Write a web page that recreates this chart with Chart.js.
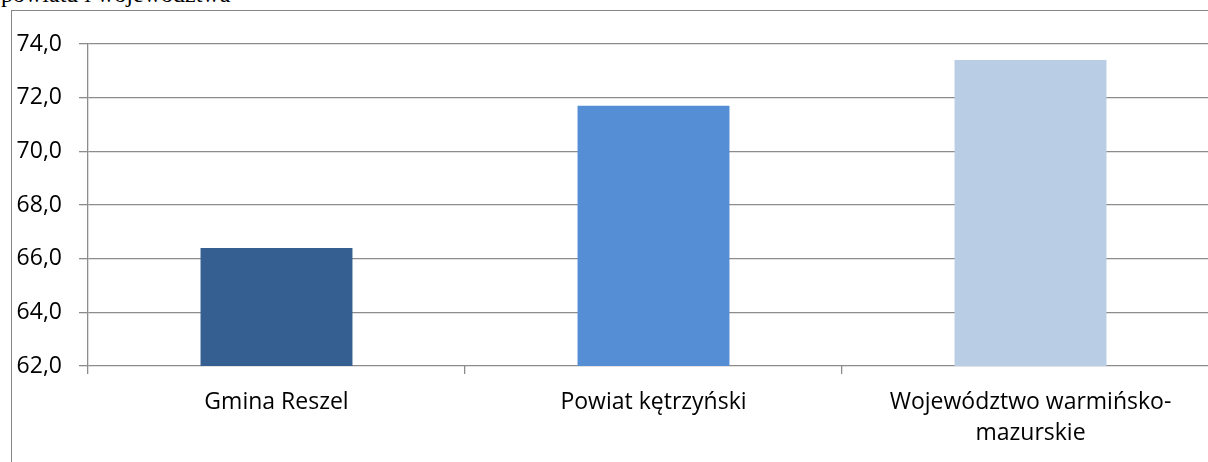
<!DOCTYPE html>
<html>
<head>
<meta charset="utf-8">
<script src="https://cdn.jsdelivr.net/npm/chart.js@4/dist/chart.umd.min.js"></script>
<style>
  html, body { margin: 0; padding: 0; width: 1208px; height: 462px; overflow: hidden; background: #fff; }
  .caption { position: absolute; left: 1px; top: -18px; font: 24px/24px "Liberation Serif", serif; color: #000; white-space: nowrap; }
  .frame { position: absolute; left: 11px; top: 10px; width: 1300px; height: 480px; border: 1px solid #868686; box-sizing: border-box; }
  #chart-box { position: absolute; left: 0; top: 0; width: 1240px; height: 451px; }
</style>
</head>
<body>
<div class="caption">powiatu i województwa</div>
<div class="frame">
  <div id="chart-box"><canvas id="wykres"></canvas></div>
</div>
<script>
// dane
const kategorie = ['Gmina Reszel', 'Powiat kętrzyński', ['Województwo warmińsko-', 'mazurskie']];
const wartosci = [66.4, 71.7, 73.4];
const kolory = ['#365f91', '#558ed5', '#b9cde5'];
const osY = { min: 62, max: 74, krok: 2 };

const fontOsi = { family: '"Open Sans", "Liberation Sans", sans-serif', size: 23, lineHeight: 1.35 };

new Chart(document.getElementById('wykres'), {
  type: 'bar',
  data: {
    labels: kategorie,
    datasets: [{
      data: wartosci,
      backgroundColor: kolory,
      borderWidth: 0,
      categoryPercentage: 1,
      barPercentage: 0.403
    }]
  },
  options: {
    responsive: true,
    maintainAspectRatio: false,
    animation: false,
    layout: { padding: { top: 33, right: 33, left: 0, bottom: 0 } },
    plugins: { legend: { display: false }, tooltip: { enabled: false } },
    scales: {
      x: {
        offset: true,
        grid: { offset: true, drawOnChartArea: false, drawTicks: true, tickLength: 8, color: '#8c8c8c', lineWidth: 1.3 },
        border: { display: false },
        ticks: { color: '#000', font: fontOsi, padding: 13, maxRotation: 0, autoSkip: false },
        afterFit: (s) => { s.height = 96; }
      },
      y: {
        min: osY.min,
        max: osY.max,
        grid: { color: '#8c8c8c', lineWidth: 1.3, tickLength: 9 },
        border: { display: true, color: '#8c8c8c', width: 1.3 },
        ticks: {
          stepSize: osY.krok,
          color: '#000',
          font: fontOsi,
          padding: 17,
          callback: (v) => v.toFixed(1).replace('.', ',')
        },
        afterFit: (s) => { s.width = 76; }
      }
    }
  }
});
</script>
</body>
</html>
